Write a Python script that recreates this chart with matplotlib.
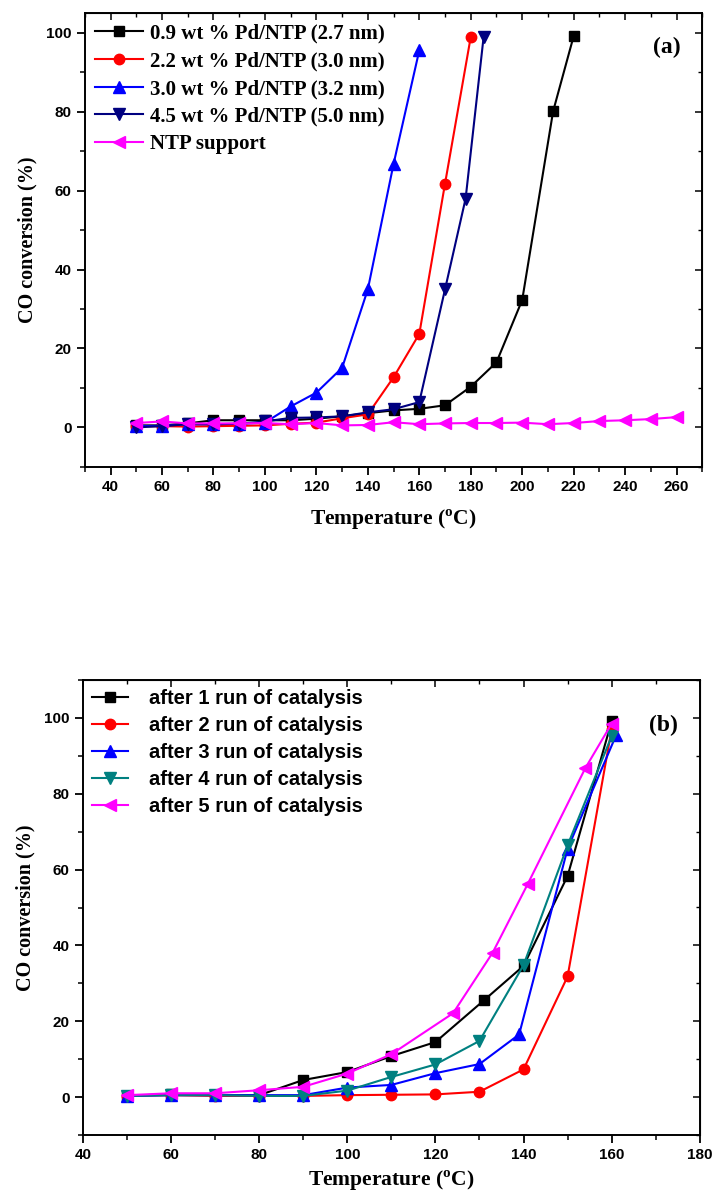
import numpy as np
import matplotlib
matplotlib.use('Agg')
import matplotlib.pyplot as plt
from matplotlib.ticker import MultipleLocator

# fonts: Times-like serif for labels, Arial-like sans for tick numbers
plt.rcParams['font.family'] = 'Liberation Serif'
plt.rcParams['mathtext.fontset'] = 'custom'
plt.rcParams['mathtext.rm'] = 'Liberation Serif:bold'
plt.rcParams['mathtext.bf'] = 'Liberation Serif:bold'

# ---------------- panel (a) data ----------------
a_labels = ['0.9 wt % Pd/NTP (2.7 nm)', '2.2 wt % Pd/NTP (3.0 nm)',
            '3.0 wt % Pd/NTP (3.2 nm)', '4.5 wt % Pd/NTP (5.0 nm)', 'NTP support']
a_t_09 = [50, 60, 70, 80, 90, 100, 110, 120, 130, 140, 150, 160, 170, 180, 190, 200, 212, 220]
a_y_09 = [0.5, 0.5, 1.0, 1.8, 1.8, 1.8, 1.8, 2.2, 2.8, 3.6, 4.3, 4.7, 5.6, 10.3, 16.5, 32.3, 80.1, 99.2]
a_t_22 = [50, 60, 70, 80, 90, 100, 110, 120, 130, 140, 150, 160, 170, 180]
a_y_22 = [0.3, 0.3, 0.2, 0.3, 0.4, 0.5, 0.9, 1.2, 2.3, 3.3, 12.7, 23.7, 61.8, 99.0]
a_t_30 = [50, 60, 70, 80, 90, 100, 110, 120, 130, 140, 150, 160]
a_y_30 = [0.3, 0.4, 0.8, 0.8, 0.9, 1.2, 5.3, 8.8, 15.1, 35.0, 66.8, 95.6]
a_t_45 = [50, 60, 70, 80, 90, 100, 110, 120, 130, 140, 150, 160, 170, 178, 185]
a_y_45 = [0.0, 0.3, 0.8, 0.8, 0.9, 1.5, 2.4, 2.5, 2.8, 3.8, 4.6, 6.4, 35.0, 58.0, 99.0]
a_t_ntp = [50, 60, 70, 80, 90, 100, 110, 120, 130, 140, 150, 160, 170, 180, 190, 200, 210, 220, 230, 240, 250, 260]
a_y_ntp = [1.1, 1.5, 1.0, 1.0, 1.0, 1.1, 0.8, 1.1, 0.5, 0.6, 1.3, 0.8, 1.0, 1.1, 1.1, 1.2, 0.8, 1.1, 1.6, 1.8, 2.1, 2.6]

# ---------------- panel (b) data ----------------
b_labels = ['after 1 run of catalysis', 'after 2 run of catalysis', 'after 3 run of catalysis',
            'after 4 run of catalysis', 'after 5 run of catalysis']
b_t_1 = [50, 60, 70, 80, 90, 100, 110, 120, 131, 140, 150, 160]
b_y_1 = [0.3, 0.8, 0.5, 0.5, 4.5, 6.6, 10.8, 14.5, 25.5, 34.6, 58.3, 99.1]
b_t_2 = [50, 60, 70, 80, 90, 100, 110, 120, 130, 140, 150, 160]
b_y_2 = [0.3, 0.5, 0.3, 0.3, 0.3, 0.5, 0.6, 0.7, 1.4, 7.3, 31.8, 97.0]
b_t_3 = [50, 60, 70, 80, 90, 100, 110, 120, 130, 139, 150, 161]
b_y_3 = [0.3, 0.5, 0.5, 0.5, 0.5, 2.5, 3.2, 6.3, 8.7, 16.5, 65.5, 95.4]
b_t_4 = [50, 60, 70, 80, 90, 100, 110, 120, 130, 140, 150, 160]
b_y_4 = [0.3, 0.5, 0.5, 0.3, 0.3, 1.7, 5.3, 8.6, 14.8, 34.8, 66.4, 95.2]
b_t_5 = [50, 60, 70, 80, 90, 100, 110, 124, 133, 141, 154, 160]
b_y_5 = [0.5, 1.0, 1.0, 1.8, 2.7, 6.2, 11.3, 22.1, 38.1, 56.3, 86.7, 98.5]


def style_axes(ax, xmaj, xmin, ylim, xlim):
    ax.set_xlim(*xlim)
    ax.set_ylim(*ylim)
    ax.xaxis.set_major_locator(MultipleLocator(xmaj))
    ax.xaxis.set_minor_locator(MultipleLocator(xmin))
    ax.yaxis.set_major_locator(MultipleLocator(20))
    ax.yaxis.set_minor_locator(MultipleLocator(10))
    ax.tick_params(which='major', direction='out', length=6, width=1.3)
    ax.tick_params(which='minor', direction='out', length=3.5, width=1.1)
    ax.tick_params(which='both', top=False, right=False)
    for sp in ax.spines.values():
        sp.set_linewidth(1.4)
    for lab in ax.get_xticklabels() + ax.get_yticklabels():
        lab.set_family('Liberation Sans')
        lab.set_fontweight('bold')
        lab.set_fontsize(11)
    # inward ticks on the top and right edges
    sx = ax.secondary_xaxis('top')
    sx.xaxis.set_major_locator(MultipleLocator(xmaj))
    sx.xaxis.set_minor_locator(MultipleLocator(xmin))
    sx.tick_params(which='major', direction='in', length=5, width=1.1, labeltop=False)
    sx.tick_params(which='minor', direction='in', length=3, width=1.0, labeltop=False)
    sy = ax.secondary_yaxis('right')
    sy.yaxis.set_major_locator(MultipleLocator(20))
    sy.yaxis.set_minor_locator(MultipleLocator(10))
    sy.tick_params(which='major', direction='in', length=5, width=1.1, labelright=False)
    sy.tick_params(which='minor', direction='in', length=3, width=1.0, labelright=False)


fig = plt.figure(figsize=(7.13, 12), dpi=100)

# ---------------- (a) ----------------
ax1 = fig.add_axes([0.119, 0.611, 0.866, 0.378])
lw, ms = 1.5, 7
ax1.plot(a_t_09, a_y_09, '-s', color='black', lw=lw, ms=ms, label=a_labels[0])
ax1.plot(a_t_22, a_y_22, '-o', color='#ff0000', lw=lw, ms=ms + 0.5, label=a_labels[1])
ax1.plot(a_t_30, a_y_30, '-^', color='#0000ff', lw=lw, ms=ms + 1.5, label=a_labels[2])
ax1.plot(a_t_45, a_y_45, '-v', color='#000080', lw=lw, ms=ms + 1.5, label=a_labels[3])
ax1.plot(a_t_ntp, a_y_ntp, '-<', color='#ff00ff', lw=lw, ms=ms + 1.5, label=a_labels[4])
style_axes(ax1, 20, 10, (-10, 105), (30, 270))
ax1.set_yticks([0, 20, 40, 60, 80, 100])
ax1.set_xlabel('Temperature ($^{\\mathbf{o}}$C)', fontsize=15.5, fontweight='bold', labelpad=10)
ax1.set_ylabel('CO conversion (%)', fontsize=14.5, fontweight='bold', labelpad=6)
ax1.legend(loc='upper left', frameon=False, prop={'family': 'Liberation Serif', 'weight': 'bold', 'size': 15},
           handlelength=2.3, handletextpad=0.35, labelspacing=0.37, borderaxespad=0.1,
           bbox_to_anchor=(0.0, 1.0))
ax1.text(0.965, 0.925, '(a)', transform=ax1.transAxes, ha='right', va='center',
         fontsize=17, fontweight='bold')

# ---------------- (b) ----------------
ax2 = fig.add_axes([0.1164, 0.0542, 0.865, 0.3791])
ax2.plot(b_t_1, b_y_1, '-s', color='black', lw=lw, ms=ms, label=b_labels[0])
ax2.plot(b_t_2, b_y_2, '-o', color='#ff0000', lw=lw, ms=ms + 0.5, label=b_labels[1])
ax2.plot(b_t_3, b_y_3, '-^', color='#0000ff', lw=lw, ms=ms + 1.5, label=b_labels[2])
ax2.plot(b_t_4, b_y_4, '-v', color='#008080', lw=lw, ms=ms + 1.5, label=b_labels[3])
ax2.plot(b_t_5, b_y_5, '-<', color='#ff00ff', lw=lw, ms=ms + 1.5, label=b_labels[4])
style_axes(ax2, 20, 10, (-10, 110), (40, 180))
ax2.set_xlabel('Temperature ($^{\\mathbf{o}}$C)', fontsize=15.5, fontweight='bold', labelpad=5)
ax2.set_ylabel('CO conversion (%)', fontsize=14.5, fontweight='bold', labelpad=6)
ax2.legend(loc='upper left', frameon=False, prop={'family': 'Liberation Sans', 'weight': 'bold', 'size': 14.5},
           handlelength=1.8, handletextpad=1.05, labelspacing=0.4, borderaxespad=0.05,
           bbox_to_anchor=(0.0, 1.0))
ax2.text(0.965, 0.9, '(b)', transform=ax2.transAxes, ha='right', va='center',
         fontsize=17, fontweight='bold')

fig.savefig('out.png', dpi=100)
